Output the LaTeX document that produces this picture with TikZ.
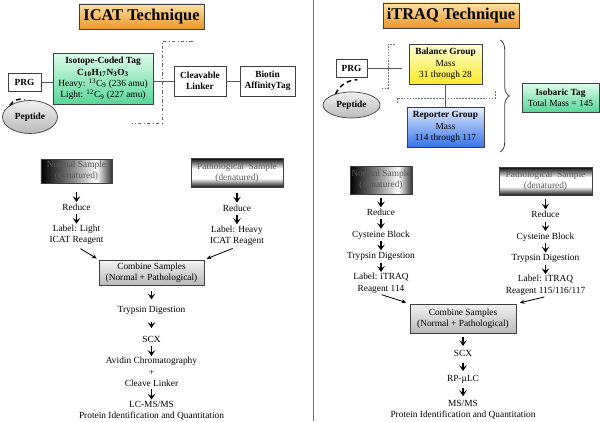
\documentclass[tikz,border=0pt]{standalone}
\usepackage{fontspec}
\setmainfont{Liberation Serif}
\usepackage{xcolor}
\usepackage{tikz}
\usetikzlibrary{positioning,arrows.meta,shapes,decorations.pathreplacing}

\definecolor{hdrtop}{RGB}{253,224,165}
\definecolor{hdrbot}{RGB}{236,150,40}
\definecolor{grntop}{RGB}{222,252,236}
\definecolor{grnbot}{RGB}{88,214,150}
\definecolor{yeltop}{RGB}{255,255,215}
\definecolor{yelbot}{RGB}{250,232,40}
\definecolor{blutop}{RGB}{228,238,255}
\definecolor{blubot}{RGB}{55,115,232}

\pgfdeclarehorizontalshading{smph}{100bp}{color(0bp)=(black); color(25bp)=(black); color(48bp)=(black!45); color(64bp)=(white); color(75bp)=(black!80); color(100bp)=(black!80)}
\pgfdeclareverticalshading{smpv}{100bp}{color(0bp)=(black!90); color(25bp)=(black!90); color(40bp)=(white); color(57bp)=(white); color(75bp)=(black); color(100bp)=(black)}

\tikzset{
  txt/.style={font=\fontsize{8}{9.6}\selectfont, inner sep=1pt, align=center},
  stp/.style={txt, text height=6pt, text depth=2pt},
  box/.style={txt, draw=black!75, line width=0.6pt, inner sep=0pt},
  hdr/.style={box, font=\fontsize{14}{16}\selectfont\bfseries, top color=hdrtop, bottom color=hdrbot, line width=0.7pt},
  smp/.style={box, text=black!65},
  dn/.style={-{Stealth[length=5pt,width=6.5pt,inset=2.2pt]}, line width=1.5pt},
  dg/.style={-{Stealth[length=4pt,width=3.5pt]}, line width=0.7pt},
  ln/.style={draw=black!65, line width=0.6pt},
  dd/.style={draw=black!60, line width=0.6pt, dash dot},
  dt/.style={draw=black!55, line width=0.6pt, dash pattern=on 1.5pt off 1pt},
  pl/.style={line width=1.3pt, dash pattern=on 4pt off 3pt}
}

\begin{document}
\begin{tikzpicture}[x=0.03cm, y=-0.03cm, node distance=8pt]
    \useasboundingbox (0,0) rectangle (600,421);
    \draw [black!55, line width=0.6pt] (313,0) -- (313,421);

    % ICAT
    \node [hdr, minimum width=3.75cm, minimum height=0.75cm] (icat) at (141.5,16.5) {ICAT Technique};
    \node [box, minimum width=0.99cm, minimum height=0.54cm, font=\fontsize{8}{9.6}\selectfont\bfseries] (prg1) at (24.5,82) {PRG};
    \node [box, ellipse, minimum width=1.65cm, minimum height=0.99cm, top color=gray!12, bottom color=gray!55, font=\fontsize{8}{9.6}\selectfont\bfseries] (pep1) at (30,117) {Peptide};
    \node [box, minimum width=3.0cm, minimum height=1.53cm, top color=grntop, bottom color=grnbot] (iso1) at (103,78.5)
        {\textbf{Isotope-Coded Tag}\\\textbf{C\textsubscript{10}H\textsubscript{17}N\textsubscript{3}O\textsubscript{3}}\\Heavy: \textsuperscript{13}C\textsubscript{9} (236 amu)\\Light: \textsuperscript{12}C\textsubscript{9} (227 amu)};
    \node [box, minimum width=1.56cm, minimum height=0.9cm, font=\fontsize{8}{9.6}\selectfont\bfseries] (clv1) at (200,81) {Cleavable\\Linker};
    \node [box, minimum width=1.65cm, minimum height=0.9cm, font=\fontsize{8}{9.6}\selectfont\bfseries] (bio1) at (267.5,81) {Biotin\\AffinityTag};
    \draw [ln] (prg1.east) -- (prg1.east -| iso1.west);
    \draw [ln] (clv1.west -| iso1.east) -- (clv1.west);
    \draw [ln] (clv1) -- (bio1);
    \draw [dd] (193,41) -| (162,123) -- (132,123);
    \draw [pl] (pep1.150) to[bend left=35] ([yshift=-7pt]prg1.south);

    \node [smp, shading=smph, minimum width=2.13cm, minimum height=0.72cm] (norm1) at (76.5,171) {Normal Sample\\(denatured)};
    \node [stp, below=16pt of norm1] (red1) {Reduce};
    \node [txt, below=of red1] (lab1) {Label: Light\\ICAT Reagent};
    \node [smp, shading=smpv, minimum width=2.76cm, minimum height=0.87cm] (path1) at (237,172.5) {Pathological\ \ Sample\\(denatured)};
    \node [stp, below=13pt of path1] (red2) {Reduce};
    \node [txt, below=of red2] (lab2) {Label: Heavy\\ICAT Reagent};
    \node [box, top color=gray!10, bottom color=gray!55, minimum width=3.15cm, minimum height=0.75cm] (comb1) at (151.5,272.5) {Combine Samples\\(Normal + Pathological)};
    \node [stp, below=16pt of comb1] (try1) {Trypsin Digestion};
    \node [stp, below=15pt of try1] (scx1) {SCX};
    \node [txt, below=8.5pt of scx1] (avd1) {Avidin Chromatography\\+\\Cleave Linker};
    \node [txt, below=10pt of avd1] (lc1) {LC-MS/MS\\Protein Identification and Quantitation};

    \draw [dn, shorten <=7pt] (norm1) -- (red1);
    \draw [dn] (red1) -- (lab1);
    \draw [dn, shorten <=5pt] (path1) -- (red2);
    \draw [dn] (red2) -- (lab2);
    \draw [dg, shorten <=4pt, shorten >=2pt] (lab1.south) -- (comb1.north west);
    \draw [dg, shorten <=4pt, shorten >=2pt] (lab2.south) -- (comb1.north east);
    \draw [dn, shorten <=5pt, shorten >=4pt] (comb1) -- (try1);
    \draw [dn, shorten <=5pt, shorten >=5pt] (try1) -- (scx1);
    \draw [dn] (scx1) -- (avd1);
    \draw [dn, shorten <=1pt] (avd1) -- (lc1);

    % iTRAQ
    \node [hdr, minimum width=4.08cm, minimum height=0.75cm] (itraq) at (451,15.5) {iTRAQ Technique};
    \node [box, minimum width=0.93cm, minimum height=0.54cm, font=\fontsize{8}{9.6}\selectfont\bfseries] (prg2) at (351.5,68) {PRG};
    \node [box, ellipse, minimum width=1.71cm, minimum height=0.78cm, top color=gray!12, bottom color=gray!55, font=\fontsize{8}{9.6}\selectfont\bfseries] (pep2) at (351.5,105) {Peptide};
    \node [box, minimum width=2.19cm, minimum height=1.2cm, top color=yeltop, bottom color=yelbot] (bal) at (445.5,64) {\textbf{Balance Group}\\Mass\\31 through 28};
    \node [box, minimum width=2.31cm, minimum height=1.2cm, top color=blutop, bottom color=blubot] (rep) at (445.5,127) {\textbf{Reporter Group}\\Mass\\114 through 117};
    \node [box, minimum width=2.31cm, minimum height=0.87cm, top color=grntop, bottom color=grnbot] (iso2) at (560.5,97.5) {\textbf{Isobaric Tag}\\Total Mass = 145};
    \draw [ln, shorten >=6pt] (prg2.east) -- (prg2.east -| bal.west);
    \draw [ln] (bal) -- (rep);
    \draw [dt] (395,44) -- (388,44) -- (388,88) -- (381,88);
    \draw [dt] (397,103) -- (397,98) -- (495,98) -- (495,91);
    \draw [pl] (pep2.145) to[bend left=30] ([xshift=5pt,yshift=-2pt]prg2.south);
    \draw [black!75, line width=0.7pt, decorate, decoration={brace, amplitude=8pt}] (500,40) -- (500,152);

    \node [smp, shading=smph, minimum width=1.86cm, minimum height=0.84cm] (norm2) at (381,180) {Normal Sample\\(denatured)};
    \node [stp, below=11pt of norm2] (red3) {Reduce};
    \node [stp, below=of red3] (cys3) {Cysteine Block};
    \node [stp, below=of cys3] (try3) {Trypsin Digestion};
    \node [txt, below=of try3] (lab3) {Label: iTRAQ\\Reagent 114};
    \node [smp, shading=smpv, minimum width=2.79cm, minimum height=0.84cm] (path2) at (545.5,181) {Pathological\ \ Sample\\(denatured)};
    \node [stp, below=12pt of path2] (red4) {Reduce};
    \node [stp, below=of red4] (cys4) {Cysteine Block};
    \node [stp, below=of cys4] (try4) {Trypsin Digestion};
    \node [txt, below=of try4] (lab4) {Label: iTRAQ\\Reagent 115/116/117};
    \node [box, top color=gray!10, bottom color=gray!55, minimum width=3.18cm, minimum height=0.87cm] (comb2) at (463,318.5) {Combine Samples\\(Normal + Pathological)};
    \node [stp, below=12.8pt of comb2] (scx2) {SCX};
    \node [stp, below=11pt of scx2] (rp2) {RP-µLC};
    \node [txt, below=11pt of rp2] (ms2) {MS/MS\\Protein Identification and Quantitation};

    \draw [dn, shorten <=3pt] (norm2) -- (red3);
    \draw [dn] (red3) -- (cys3);
    \draw [dn] (cys3) -- (try3);
    \draw [dn] (try3) -- (lab3);
    \draw [dn, shorten <=3pt] (path2) -- (red4);
    \draw [dn] (red4) -- (cys4);
    \draw [dn] (cys4) -- (try4);
    \draw [dn] (try4) -- (lab4);
    \draw [dg, shorten <=1pt, shorten >=3pt] (lab3.south) -- (comb2.north west);
    \draw [dg, shorten <=1pt, shorten >=3pt] (lab4.south) -- (comb2.north east);
    \draw [dn, shorten <=3pt, shorten >=2pt] (comb2) -- (scx2);
    \draw [dn, shorten <=2pt, shorten >=2pt] (scx2) -- (rp2);
    \draw [dn, shorten <=2pt, shorten >=2pt] (rp2) -- (ms2);
\end{tikzpicture}
\end{document}
